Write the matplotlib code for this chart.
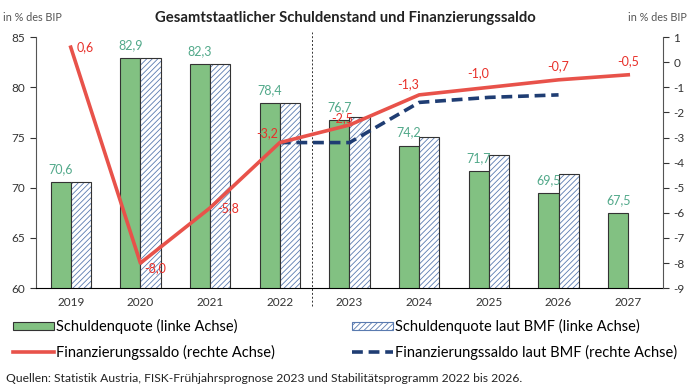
import matplotlib.pyplot as plt
import numpy as np
from matplotlib.patches import Patch
from matplotlib.lines import Line2D

plt.rcParams['font.family'] = ['Lato', 'DejaVu Sans']
plt.rcParams['axes.unicode_minus'] = False
plt.rcParams['hatch.linewidth'] = 0.6

years = ['2019', '2020', '2021', '2022', '2023', '2024', '2025', '2026', '2027']
schulden = [70.6, 82.9, 82.3, 78.4, 76.7, 74.2, 71.7, 69.5, 67.5]
schulden_bmf = [70.6, 82.9, 82.3, 78.4, 77.0, 75.1, 73.3, 71.4, np.nan]
saldo = [0.6, -8.0, -5.8, -3.2, -2.5, -1.3, -1.0, -0.7, -0.5]
saldo_bmf = [np.nan, np.nan, np.nan, -3.2, -3.2, -1.6, -1.4, -1.3, np.nan]
saldo_labels = ['0,6', '-8,0', '-5,8', '-3,2', '-2,5', '-1,3', '-1,0', '-0,7', '-0,5']
schulden_labels = ['70,6', '82,9', '82,3', '78,4', '76,7', '74,2', '71,7', '69,5', '67,5']

green = '#82c182'
green_txt = '#52a98a'
red = '#e8524a'
red_txt = '#e8302a'
blue = '#1f3d73'
hatch_col = '#5a7bb0'
edge = '#333333'

fig = plt.figure(figsize=(6.9, 3.91), dpi=100)
ax = fig.add_axes([0.052, 0.263, 0.909, 0.642])
ax2 = ax.twinx()

x = np.arange(len(years))
w = 0.29
ax.bar(x - w / 2, schulden, w, color=green, edgecolor=edge, linewidth=0.8, zorder=2)
ax.bar(x + w / 2, schulden_bmf, w, color='white', edgecolor=hatch_col, hatch='//////',
       linewidth=0, zorder=2)
ax.bar(x + w / 2, schulden_bmf, w, fill=False, edgecolor=edge, linewidth=0.8, zorder=3)

for xi, v, lab in zip(x, schulden, schulden_labels):
    ax.annotate(lab, (xi - w / 2, v), xytext=(0, 5), textcoords='offset points',
                ha='center', va='bottom', color=green_txt, fontsize=9)

ax.set_ylim(60, 85)
ax.set_xlim(-0.5, len(years) - 0.5)
ax.set_yticks(range(60, 86, 5))
ax.set_xticks(x)
ax.set_xticklabels(years)
ax.tick_params(axis='both', labelsize=8.5, colors='#333333', length=4, width=0.8)
ax.tick_params(axis='x', length=0, pad=6)
for s in ['top', 'right']:
    ax.spines[s].set_visible(False)
ax.spines['left'].set_color('#555555')

ax2.plot(x, saldo, color=red, linewidth=2.6, zorder=5)
ax2.plot(x, saldo_bmf, color=blue, linewidth=2.6, linestyle=(0, (3, 1.6)), zorder=4)
ax2.set_ylim(-9, 1)
ax2.set_yticks(range(-9, 2))
ax2.tick_params(axis='y', labelsize=8.5, colors='#333333', length=4, width=0.8)
for s in ['top', 'left']:
    ax2.spines[s].set_visible(False)
ax2.spines['right'].set_color('#555555')
ax2.spines['bottom'].set_visible(False)

# label offsets (points) and alignment per year
offs = [((4, 0), 'left', 'center'), ((3, -4), 'left', 'center'), ((5, 0), 'left', 'center'),
        ((-1, 7), 'right', 'center'), ((-5, 5), 'center', 'center'), ((0, 8), 'right', 'center'),
        ((0, 10), 'right', 'center'), ((0, 10), 'center', 'center'), ((0, 10), 'center', 'center')]
for xi, v, lab, (o, ha, va) in zip(x, saldo, saldo_labels, offs):
    ax2.annotate(lab, (xi, v), xytext=o, textcoords='offset points', ha=ha, va=va,
                 color=red_txt, fontsize=9, zorder=6)

ax.axvline(3.46, ymin=-0.07, ymax=1.02, color='#333333', linestyle=(0, (2, 2)),
           linewidth=0.7, clip_on=False)

fig.text(0.5, 0.955, 'Gesamtstaatlicher Schuldenstand und Finanzierungssaldo',
         ha='center', va='center', fontsize=10.7, fontweight='bold', color='#222222')
fig.text(0.005, 0.955, 'in % des BIP', ha='left', va='center', fontsize=7.8, color='#555555')
fig.text(0.995, 0.955, 'in % des BIP', ha='right', va='center', fontsize=7.8, color='#555555')

h1 = [Patch(facecolor=green, edgecolor=edge, linewidth=0.8),
      Line2D([], [], color=red, linewidth=2.6)]
h2 = [Patch(facecolor='white', edgecolor=hatch_col, hatch='//////', linewidth=0.8),
      Line2D([], [], color=blue, linewidth=2.6, linestyle=(0, (3, 1.6)))]
kw = dict(frameon=False, fontsize=10.5, handlelength=2.8, handleheight=0.5,
          handletextpad=0.15, labelspacing=0.75, borderpad=0, borderaxespad=0,
          loc='upper left')
fig.legend(h1, ['Schuldenquote (linke Achse)', 'Finanzierungssaldo (rechte Achse)'],
           bbox_to_anchor=(0.0188, 0.184), **kw)
fig.legend(h2, ['Schuldenquote laut BMF (linke Achse)',
                'Finanzierungssaldo laut BMF (rechte Achse)'],
           bbox_to_anchor=(0.51, 0.184), **kw)

fig.text(0.008, 0.031, 'Quellen: Statistik Austria, FISK-Frühjahrsprognose 2023 und '
         'Stabilitätsprogramm 2022 bis 2026.', ha='left', va='center', fontsize=8.7,
         color='#222222')

fig.savefig('out.png', dpi=100)
